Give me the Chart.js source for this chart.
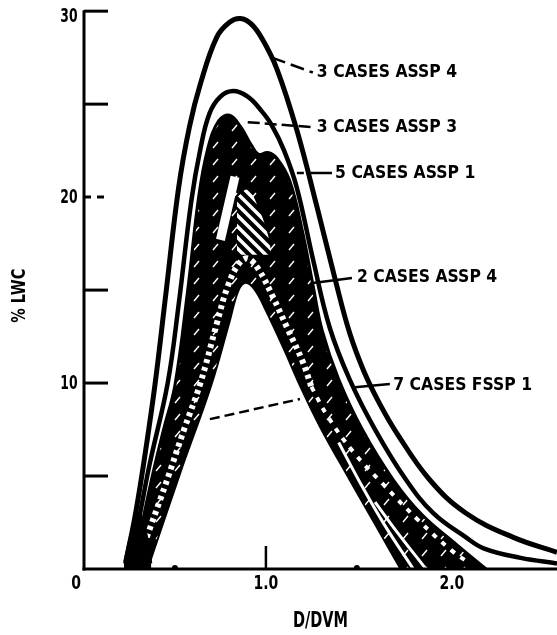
<!DOCTYPE html>
<html><head><meta charset="utf-8">
<script src="https://cdn.jsdelivr.net/npm/chart.js@4.4.1/dist/chart.umd.min.js"></script>
<style>html,body{margin:0;padding:0;background:#fff;}canvas{display:block;}</style>
</head><body>
<canvas id="c" width="557" height="635"></canvas>
<script>
// ---- data ----
// outer envelope "3 CASES ASSP 4"
const aX = [0.23,0.28,0.33,0.39,0.45,0.52,0.58,0.64,0.73,0.80,0.86,0.92,0.98,1.06,1.17,1.28,1.38,1.46,1.54,1.63,1.72,1.90,2.10,2.36,2.60];
const aY = [0.4,2.8,5.8,9.9,14.8,20.5,23.8,26.1,28.6,29.4,29.6,29.3,28.5,26.9,23.6,19.5,15.6,12.7,10.6,8.8,7.3,4.8,3.0,1.7,0.9];
// second envelope
const bX = [0.25,0.30,0.36,0.46,0.52,0.59,0.64,0.69,0.75,0.82,0.90,0.97,1.03,1.10,1.17,1.26,1.35,1.46,1.60,1.77,1.92,2.10,2.20,2.40,2.60];
const bY = [0.4,2.6,5.6,10.0,14.2,19.8,22.6,24.5,25.4,25.7,25.4,24.7,23.9,22.5,20.5,16.6,13.0,10.2,7.5,4.8,3.0,1.7,1.1,0.6,0.3];
// dark band top ("3 CASES ASSP 3" / "5 CASES ASSP 1")
const massX = [0.27,0.32,0.38,0.44,0.50,0.57,0.63,0.68,0.74,0.80,0.86,0.92,0.96,1.01,1.06,1.13,1.20,1.26,1.31,1.40,1.53,1.70,1.86,2.05,2.21];
const massY = [0.3,2.5,5.2,7.6,9.9,15.0,20.0,22.6,24.1,24.4,23.8,22.8,22.3,22.4,22.1,20.9,18.2,15.2,12.8,10.2,7.5,4.8,2.9,1.3,0];
// solid foot where the left edges meet
const footX = [0.22,0.26,0.30,0.34,0.37];
const footY = [0.3,2.0,3.0,2.0,0.3];
// empty region below "7 CASES FSSP 1"
const wX = [0.36,0.53,0.70,0.80,0.85,0.89,0.94,1.00,1.10,1.19,1.30,1.46,1.60,1.74];
const wY = [0.3,5.2,9.9,13.3,15.0,15.4,15.0,13.9,11.8,9.8,7.6,4.8,2.4,0];
// hatch band of "7 CASES FSSP 1"
const eX = [0.33,0.45,0.55,0.64,0.73,0.79,0.85,0.90,0.96,1.04,1.12,1.20,1.25];
const eY = [1.3,4.6,7.5,10.0,13.2,15.2,16.4,16.7,16.1,14.6,12.9,11.2,9.8];
const dotX = [1.25,1.34,1.48,1.64,1.84,2.02,2.12];
const dotY = [9.8,8.2,6.3,4.6,2.6,1.0,0.3];
// light strips in the lower right of the band
const s1X = [1.40,1.52,1.65,1.81];
const s1Y = [6.8,4.6,2.4,0];
const s2X = [1.60,1.72,1.88];
const s2Y = [3.6,2.0,0];
// striped patch and light bar near the peak
const hX = [0.84,0.90,0.96,1.01,1.03];
const hY = [20.0,20.4,19.4,18.0,17.0];
const hBase = 16.9;
const barX = [0.75,0.83];
const barY = [17.7,21.1];
// labels and leaders
const annoText = ['3 CASES ASSP 4','3 CASES ASSP 3','5 CASES ASSP 1','2 CASES ASSP 4','7 CASES FSSP 1'];
const annoX = [1.28,1.28,1.38,1.50,1.70];
const annoY = [26.7,23.76,21.29,15.65,9.89];
const lead1X = [1.033,1.258], lead1Y = [27.5,26.7];
const lead2X = [0.90,1.258],  lead2Y = [24.03,23.76];
const lead3X = [1.17,1.363],  lead3Y = [21.29,21.29];
const lead4X = [1.258,1.473], lead4Y = [15.38,15.65];
const lead5X = [1.489,1.681], lead5Y = [9.78,9.95];
const lead6X = [0.692,1.187], lead6Y = [8.06,9.14];
// axes
const yTickValues = [5,10,15,20,25,30];
const yTickLabels = ['','10','','20','','30'];
const xTickValues = [0,1,2];
const xTickLabels = ['0','1.0','2.0'];
const xMinorMarks = [0.5,1.5];
const xTitle = 'D/DVM';
const yTitle = '% LWC';

const pts = (xs, ys) => xs.map((x, i) => ({x, y: ys[i]}));

function dashPattern() {
  const w = 19, h = 17;
  const c = document.createElement('canvas'); c.width = w; c.height = h;
  const g = c.getContext('2d');
  g.fillStyle = '#000'; g.fillRect(0,0,w,h);
  g.strokeStyle = '#fff'; g.lineWidth = 1.4;
  g.beginPath(); g.moveTo(4,12); g.lineTo(9,6); g.stroke();
  return document.getElementById('c').getContext('2d').createPattern(c, 'repeat');
}
function stripePattern() {
  const s = 11;
  const c = document.createElement('canvas'); c.width = s; c.height = s;
  const g = c.getContext('2d');
  g.fillStyle = '#000'; g.fillRect(0,0,s,s);
  g.strokeStyle = '#fff'; g.lineWidth = 3.5;
  g.beginPath(); g.moveTo(-2,-2); g.lineTo(s+2,s+2);
  g.moveTo(-2,s-2); g.lineTo(2,s+2); g.moveTo(s-2,-2); g.lineTo(s+2,2); g.stroke();
  return document.getElementById('c').getContext('2d').createPattern(c, 'repeat');
}

const base = {pointRadius: 0, tension: 0.4, borderCapStyle: 'butt', borderJoinStyle: 'round'};
const line = (data, o) => Object.assign({}, base, {data, fill: false, backgroundColor: 'transparent'}, o);

const datasets = [
  line(pts(massX, massY), {fill: 'origin', backgroundColor: dashPattern(), borderColor: '#000', borderWidth: 3, order: 20}),
  line(pts(hX, hY), {fill: {value: hBase}, backgroundColor: stripePattern(), borderColor: 'rgba(0,0,0,0)', borderWidth: 0, order: 19}),
  line(pts(wX, wY), {fill: 'origin', backgroundColor: '#fff', borderColor: '#000', borderWidth: 2, order: 18}),
  line(pts(footX, footY), {fill: 'origin', backgroundColor: '#000', borderColor: '#000', borderWidth: 2, order: 15}),
  line(pts(barX, barY), {borderColor: '#fff', borderWidth: 9, tension: 0, order: 17}),
  line(pts(eX, eY), {borderColor: '#fff', borderWidth: 6, borderDash: [4,4], order: 16}),
  line(pts(dotX, dotY), {borderColor: '#fff', borderWidth: 4, borderDash: [5,7], order: 16}),
  line(pts(s1X, s1Y), {borderColor: '#fff', borderWidth: 3, order: 16}),
  line(pts(s2X, s2Y), {borderColor: '#fff', borderWidth: 3, order: 16}),
  line(pts(bX, bY), {borderColor: '#000', borderWidth: 4.5, order: 10}),
  line(pts(aX, aY), {borderColor: '#000', borderWidth: 5, order: 9}),
  line(pts(lead1X, lead1Y), {borderColor: '#000', borderWidth: 2.5, borderDash: [14,6], tension: 0, order: 5}),
  line(pts(lead2X, lead2Y), {borderColor: '#000', borderWidth: 2.5, borderDash: [12,5], tension: 0, order: 5}),
  line(pts(lead3X, lead3Y), {borderColor: '#000', borderWidth: 2.5, borderDash: [7,6,100,0], tension: 0, order: 5}),
  line(pts(lead4X, lead4Y), {borderColor: '#000', borderWidth: 2.5, tension: 0, order: 5}),
  line(pts(lead5X, lead5Y), {borderColor: '#000', borderWidth: 2.5, tension: 0, order: 5}),
  line(pts(lead6X, lead6Y), {borderColor: '#000', borderWidth: 2.5, borderDash: [10,5], tension: 0, order: 5}),
];

function sText(ctx, text, px, py, size, sx, align, rot) {
  ctx.save();
  ctx.translate(px, py);
  if (rot) ctx.rotate(rot);
  ctx.scale(sx, 1);
  ctx.font = 'bold ' + size + 'px "DejaVu Sans"';
  ctx.textAlign = align; ctx.textBaseline = 'middle';
  ctx.fillText(text, 0, 0);
  ctx.restore();
}

const axisPlugin = {
  id: 'axisPlugin',
  afterDatasetsDraw(chart) {
    const {ctx, scales: {x, y}} = chart;
    ctx.save();
    ctx.strokeStyle = '#000'; ctx.fillStyle = '#000'; ctx.lineCap = 'butt';
    const x0 = x.getPixelForValue(0), y0 = y.getPixelForValue(0);
    const yTop = y.getPixelForValue(30) - 1;
    ctx.lineWidth = 3;
    ctx.beginPath(); ctx.moveTo(x0, yTop); ctx.lineTo(x0, y0 + 1.5); ctx.stroke();
    ctx.beginPath(); ctx.moveTo(x0 - 1.5, y0); ctx.lineTo(x.right, y0); ctx.stroke();
    yTickValues.forEach((v, i) => {
      const py = y.getPixelForValue(v);
      ctx.setLineDash(v === 20 ? [7,6] : []);
      ctx.beginPath(); ctx.moveTo(x0, py); ctx.lineTo(x0 + 24, py); ctx.stroke();
      if (yTickLabels[i]) sText(ctx, yTickLabels[i], x0 - 15, py + (v === 30 ? 6 : 1), 20, 0.62, 'center');
    });
    ctx.setLineDash([]);
    const p1 = x.getPixelForValue(1);
    ctx.lineWidth = 2.5;
    ctx.beginPath(); ctx.moveTo(p1, y0); ctx.lineTo(p1, y0 - 23); ctx.stroke();
    xMinorMarks.forEach(v => {
      ctx.beginPath(); ctx.arc(x.getPixelForValue(v), y0 - 1, 3, Math.PI, 0); ctx.fill();
    });
    xTickValues.forEach((v, i) => {
      const px = x.getPixelForValue(v) + (v === 0 ? -8 : (v === 2 ? 4 : 0));
      sText(ctx, xTickLabels[i], px, y0 + 15, 20, 0.7, 'center');
    });
    sText(ctx, xTitle, x.getPixelForValue(1.3), y0 + 52, 22, 0.66, 'center');
    sText(ctx, yTitle, 20, y.getPixelForValue(14.7), 20, 0.72, 'center', -Math.PI / 2);
    annoText.forEach((t, i) => {
      sText(ctx, t, x.getPixelForValue(annoX[i]), y.getPixelForValue(annoY[i]), 17, 0.92, 'left');
    });
    ctx.restore();
  }
};

new Chart(document.getElementById('c'), {
  type: 'line',
  data: {datasets},
  options: {
    responsive: false,
    devicePixelRatio: 1,
    animation: false,
    layout: {padding: {left: 84, right: 0, top: 0, bottom: 66}},
    plugins: {legend: {display: false}, tooltip: {enabled: false}},
    scales: {
      x: {type: 'linear', min: 0, max: 2.6, display: false},
      y: {type: 'linear', min: 0, max: 30.6, display: false}
    }
  },
  plugins: [axisPlugin]
});
</script>
</body></html>
